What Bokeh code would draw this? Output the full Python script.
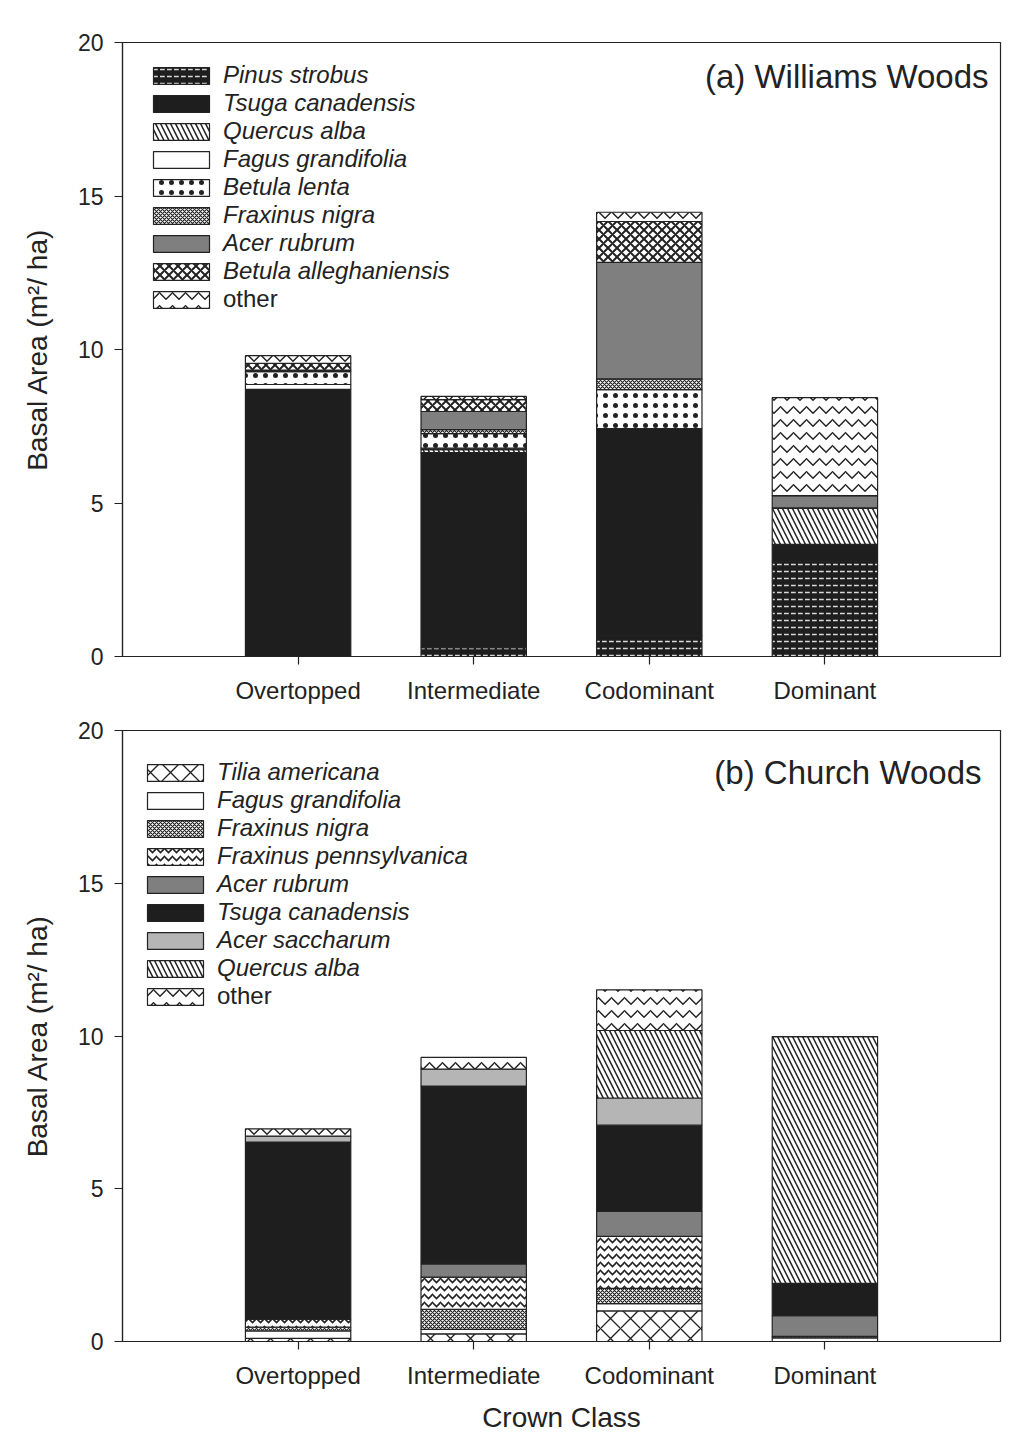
from bokeh.plotting import figure
from bokeh.models import Range1d, FixedTicker, Legend, LegendItem, Label
from bokeh.layouts import column
from bokeh.transform import stack
from bokeh.models import ColumnDataSource
from bokeh.embed import file_html
from bokeh.resources import INLINE

# ---------------- data ----------------
crown = ["Overtopped", "Intermediate", "Codominant", "Dominant"]
x_pos = [1, 2, 3, 4]
y_ticks = [0, 5, 10, 15, 20]

# (a) Williams Woods  (stack order bottom -> top)
species_a = ["Pinus strobus", "Tsuga canadensis", "Quercus alba", "Fagus grandifolia",
             "Betula lenta", "Fraxinus nigra", "Acer rubrum", "Betula alleghaniensis", "other"]
pinus_a = [0.00, 0.29, 0.68, 3.10]
tsuga_a = [8.70, 6.35, 6.74, 0.55]
quercus_a = [0.00, 0.10, 0.00, 1.19]
fagus_a = [0.16, 0.05, 0.00, 0.00]
lenta_a = [0.42, 0.47, 1.27, 0.00]
fnigra_a = [0.05, 0.13, 0.35, 0.00]
rubrum_a = [0.00, 0.59, 3.80, 0.40]
allegh_a = [0.22, 0.39, 1.33, 0.00]
other_a = [0.25, 0.10, 0.30, 3.19]

# (b) Church Woods
species_b = ["Tilia americana", "Fagus grandifolia", "Fraxinus nigra", "Fraxinus pennsylvanica",
             "Acer rubrum", "Tsuga canadensis", "Acer saccharum", "Quercus alba", "other"]
tilia_b = [0.10, 0.25, 1.00, 0.00]
fagus_b = [0.25, 0.15, 0.24, 0.12]
fnigra_b = [0.12, 0.65, 0.50, 0.05]
fpenn_b = [0.25, 1.06, 1.70, 0.00]
rubrum_b = [0.00, 0.43, 0.82, 0.68]
tsuga_b = [5.81, 5.82, 2.82, 1.05]
sacch_b = [0.19, 0.56, 0.89, 0.00]
quercus_b = [0.00, 0.00, 2.21, 8.08]
other_b = [0.24, 0.38, 1.33, 0.00]

values_a = [pinus_a, tsuga_a, quercus_a, fagus_a, lenta_a, fnigra_a, rubrum_a, allegh_a, other_a]
values_b = [tilia_b, fagus_b, fnigra_b, fpenn_b, rubrum_b, tsuga_b, sacch_b, quercus_b, other_b]

# ---------------- styles ----------------
FONT = "Liberation Sans"
INK = "#222222"
STYLE = {
    "Pinus strobus": dict(fill_color="#1e1e1e", hatch_pattern='"', hatch_color="#d8d8d8", hatch_scale=7, hatch_weight=1.5),
    "Tsuga canadensis": dict(fill_color="#1e1e1e"),
    "Quercus alba": dict(fill_color="white", hatch_pattern="\\", hatch_color=INK, hatch_scale=10, hatch_weight=1.5),
    "Fagus grandifolia": dict(fill_color="white"),
    "Betula lenta": dict(fill_color="white", hatch_pattern=".", hatch_color=INK, hatch_scale=10, hatch_weight=1.3),
    "Fraxinus nigra": dict(fill_color="white", hatch_pattern="x", hatch_color=INK, hatch_scale=4, hatch_weight=1.2),
    "Acer rubrum": dict(fill_color="#7f7f7f"),
    "Betula alleghaniensis": dict(fill_color="white", hatch_pattern="x", hatch_color=INK, hatch_scale=9, hatch_weight=2),
    "other": dict(fill_color="white", hatch_pattern="v", hatch_color=INK, hatch_scale=13, hatch_weight=1.5),
    "Tilia americana": dict(fill_color="white", hatch_pattern="x", hatch_color=INK, hatch_scale=20, hatch_weight=1.3),
    "Fraxinus pennsylvanica": dict(fill_color="white", hatch_pattern="v", hatch_color=INK, hatch_scale=8, hatch_weight=1.6),
    "Acer saccharum": dict(fill_color="#b5b5b5"),
}

FRAME_H = 614
ROW_H = 28
ROW_SP = 0


def make_panel(species, values, title, height, b_top, b_bottom, xlabel,
               leg_x, leg_top, other_top, title_xy):
    data = {"x": x_pos}
    keys = []
    for i, vals in enumerate(values):
        k = "s%d" % i
        data[k] = vals
        keys.append(k)
    src = ColumnDataSource(data)

    p = figure(width=1010, height=height, output_backend="svg", toolbar_location=None,
               x_range=Range1d(0, 5), y_range=Range1d(0, 20),
               min_border_left=122, min_border_right=10,
               min_border_top=b_top, min_border_bottom=b_bottom)
    p.grid.visible = False
    p.outline_line_color = INK
    p.outline_line_width = 1.2
    p.background_fill_color = "white"
    p.border_fill_color = "white"

    renderers = []
    for i, name in enumerate(species):
        st = dict(STYLE[name])
        r = p.vbar(x="x", width=0.6, bottom=stack(*keys[:i]), top=stack(*keys[:i + 1]),
                   source=src, line_color=INK, line_width=1.2, **st)
        renderers.append(r)

    # axes
    p.xaxis.ticker = FixedTicker(ticks=x_pos)
    p.xaxis.major_label_overrides = {x: c for x, c in zip(x_pos, crown)}
    p.yaxis.ticker = FixedTicker(ticks=y_ticks)
    for ax in (p.xaxis[0], p.yaxis[0]):
        ax.axis_line_color = INK
        ax.axis_line_width = 1.2
        ax.major_tick_line_color = INK
        ax.major_tick_line_width = 1.2
        ax.major_tick_out = 8
        ax.major_tick_in = 0
        ax.minor_tick_out = 0
        ax.minor_tick_in = 0
        ax.major_label_text_font = FONT
        ax.major_label_text_color = INK
        ax.axis_label_text_font = FONT
        ax.axis_label_text_font_style = "normal"
        ax.axis_label_text_color = INK
        ax.axis_label_text_font_size = "28px"
    p.xaxis.major_label_text_font_size = "24px"
    p.yaxis.major_label_text_font_size = "23px"
    p.xaxis.major_label_standoff = 12
    p.yaxis.major_label_standoff = 11
    p.yaxis.axis_label = "Basal Area (m\u00b2/ ha)"
    p.yaxis.axis_label_standoff = 22
    if xlabel:
        p.xaxis.axis_label = xlabel
        p.xaxis.axis_label_standoff = 10

    # legends (italic species, upright "other"); location y = legend bottom above frame bottom
    def mk_legend(items, top_from_frame_top, italic):
        n = len(items)
        leg_h = n * ROW_H + (n - 1) * ROW_SP
        ybot = FRAME_H - top_from_frame_top - leg_h
        leg = Legend(items=items, location=(leg_x, ybot), orientation="vertical",
                     glyph_width=70, glyph_height=21, label_height=20, spacing=ROW_SP,
                     label_standoff=7, padding=0, margin=0,
                     border_line_alpha=0, background_fill_alpha=0,
                     label_text_font=FONT, label_text_font_size="24px",
                     label_text_color=INK,
                     label_text_font_style="italic" if italic else "normal",
                     label_text_baseline="middle")
        p.add_layout(leg)

    sp_items = [LegendItem(label=n, renderers=[r]) for n, r in zip(species[:-1], renderers[:-1])]
    mk_legend(sp_items, leg_top, True)
    mk_legend([LegendItem(label=species[-1], renderers=[renderers[-1]])], other_top, False)

    p.add_layout(Label(x=title_xy[0], y=title_xy[1], x_units="screen", y_units="screen",
                       text=title, text_font=FONT, text_font_size="33px", text_color=INK,
                       text_align="right", text_baseline="middle"))
    return p


pa = make_panel(species_a, values_a, "(a) Williams Woods", 708, 42, 52, None,
                24, 19, 243, (866, 580))
pb = make_panel(species_b, values_b, "(b) Church Woods", 727, 22, 91, "Crown Class",
                18, 31, 255, (859, 569))

layout = column(pa, pb, spacing=0)
open("out.html", "w").write(file_html(layout, INLINE))
